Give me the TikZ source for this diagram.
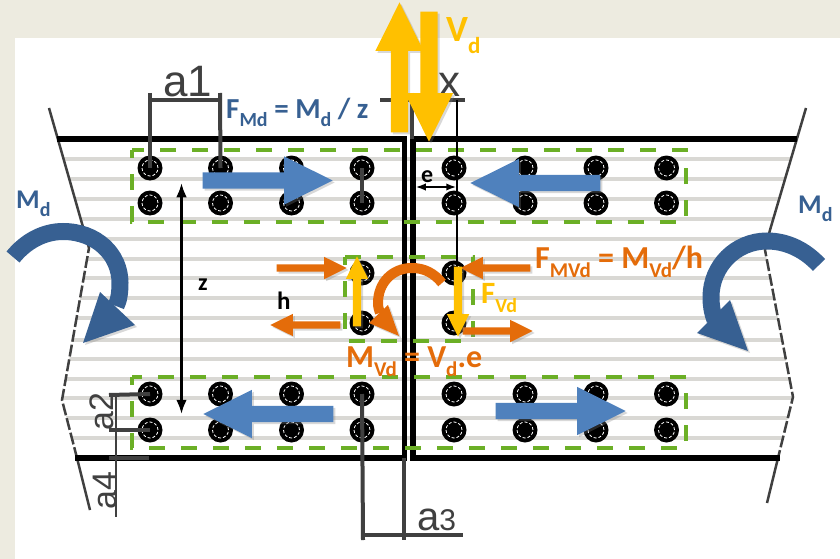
\documentclass[tikz,border=0pt]{standalone}
\usepackage{fontspec}
\setmainfont{Carlito}
\newfontfamily\dimfont{Liberation Sans}
\usetikzlibrary{shapes,arrows.meta,shadows}
\definecolor{paper}{HTML}{EDEBE0}
\definecolor{rail}{HTML}{D9D8D4}
\definecolor{dimgrey}{HTML}{404040}
\definecolor{groupgreen}{HTML}{6BAF26}
\definecolor{forceblue}{HTML}{4F81BD}
\definecolor{momentblue}{HTML}{376092}
\definecolor{shearorange}{HTML}{E46C0A}
\definecolor{shearyellow}{HTML}{FFC000}
\newcommand{\lowtext}[2]{\raisebox{-.3em}{\fontsize{#1}{#1}\selectfont #2}}
\tikzset{
	x=1pt,y=-1pt,
	softshadow/.style={drop shadow={opacity=0.3,shadow xshift=2pt,shadow yshift=-2pt}},
	bolt/.style={circle,fill=black,minimum size=25pt,inner sep=0pt,
		path picture={\draw[white,densely dashed,line width=0.8pt] (path picture bounding box.center) circle (8pt);}},
	railline/.style={rail,line width=4pt},
	flange/.style={black,line width=6pt},
	edgeline/.style={dimgrey,line width=2.5pt},
	dimline/.style={dimgrey,line width=4pt},
	groupbox/.style={groupgreen,line width=4pt,dash pattern=on 16pt off 16pt,dash phase=8pt},
	thinarrow/.style={Latex-Latex,black},
	blockarrow/.style={single arrow,anchor=tip,softshadow},
	horiz/.style={inner xsep=0pt,inner ysep=#1},
	vert/.style={inner ysep=0pt,inner xsep=#1},
	forcearrow/.style={blockarrow,horiz=8pt,fill=forceblue,minimum height=130pt,
		single arrow head extend=16pt,single arrow tip angle=53},
	orangearrow/.style={blockarrow,horiz=3.5pt,fill=shearorange,minimum height=70pt,
		single arrow head extend=7.5pt,single arrow tip angle=53},
	yellowarrow/.style={blockarrow,vert=4pt,fill=shearyellow,minimum height=70pt,
		single arrow head extend=7pt,single arrow tip angle=53},
	bigarrow/.style={blockarrow,vert=8.5pt,fill=shearyellow,minimum height=130pt,
		single arrow head extend=15.5pt,single arrow tip angle=53},
	lbl/.style={anchor=base west,inner sep=0pt,font=\bfseries\fontsize{#1}{#1}\selectfont},
	dimlbl/.style={anchor=base west,inner sep=0pt,text=dimgrey,font=\dimfont\fontsize{#1}{#1}\selectfont}
}
\begin{document}
\begin{tikzpicture}
	\useasboundingbox (0,0) rectangle (840,559);
	\fill[paper] (0,0) rectangle (840,559);
	\fill[white] (15,38) rectangle (840,559);
	
	% Rails
	\begin{scope}
		\clip (49,108) -- (89,248) -- (62,400) -- (90,510) -- (767,503) -- (793,397) -- (765,250) -- (806,108) -- cycle;
		\foreach \y in {159,179,199,219,239,259,278,298,318,340,359,379,398,418,438}
			\draw[railline] (40,\y) -- (820,\y);
	\end{scope}
	
	% Plate edges
	\draw[edgeline] (49,108) -- (83,227);
	\draw[edgeline,dash pattern=on 12pt off 3pt] (83,227) -- (89,248) -- (62,400) -- (77,458);
	\draw[edgeline] (77,458) -- (90,510);
	\draw[edgeline] (806,108) -- (770,230);
	\draw[edgeline,dash pattern=on 12pt off 3pt] (770,230) -- (765,250) -- (793,397) -- (778,458);
	\draw[edgeline] (778,458) -- (767,503);
	\draw[flange] (57,139) -- (407,139);
	\draw[flange] (410,139) -- (797,139);
	\draw[flange] (75,458) -- (407,458);
	\draw[flange] (410,458) -- (780,458);
	\draw[black,line width=5pt] (404,139) -- (404,458);
	\draw[black,line width=6pt] (413,139) -- (413,458);
	
	% Bolts
	\foreach \x/\n in {150/1,220.5/2,291.5/3,362/4,454/5,525/6,596/7,666.5/8} {
		\node[bolt] (ta\n) at (\x,168) {};
		\node[bolt] (tb\n) at (\x,203) {};
		\node[bolt] (ba\n) at (\x,394) {};
		\node[bolt] (bb\n) at (\x,430) {};
	}
	\node[bolt] (ma1) at (362,273) {};
	\node[bolt] (mb1) at (362,323) {};
	\node[bolt] (ma2) at (454,273) {};
	\node[bolt] (mb2) at (454,323) {};
	
	% Bolt groups
	\draw[groupbox] (132,150) rectangle (686,222);
	\draw[groupbox] (132,377) rectangle (686,448);
	\draw[groupbox] (345,257) rectangle (473,341);
	
	% Dimensions
	\coordinate (a1l) at (150,93);
	\coordinate (a1r) at (220,93);
	\coordinate (a1m) at (150,100);
	\coordinate (a1n) at (220,100);
	\coordinate (a2top) at (109,395);
	\coordinate (a2bot) at (109,430);
	\coordinate (a3l) at (363,540);
	\coordinate (a3r) at (404,540);
	\coordinate (a3web) at (404,458);
	\coordinate (a3m) at (363,535);
	\coordinate (a3n) at (463,535);
	\coordinate (a4top) at (116,395);
	\coordinate (a4bot) at (116,517);
	\coordinate (a4l) at (109,458);
	\coordinate (a4r) at (149,458);
	\coordinate (xl) at (380,100);
	\coordinate (xr) at (465,100);
	\coordinate (xtop) at (457,100);
	\coordinate (xbot) at (457,330);
	\coordinate (webtop) at (412,93);
	\coordinate (webfl) at (412,139);
	\draw[dimline] (a1l) -- (ta1.center);
	\draw[dimline] (a1r) -- (ta2.center);
	\draw[dimline] (a1m) -- (a1n);
	\draw[dimline] (ta4.center) -- (tb4.center);
	\draw[dimline] (a2top) -- (ba1.center);
	\draw[dimline] (a2bot) -- (bb1.center);
	\draw[edgeline] (a4top) -- (a4bot);
	\draw[dimline] (a4l) -- (a4r);
	\draw[dimline] (ba4.center) -- (a3l);
	\draw[dimline] (a3web) -- (a3r);
	\draw[dimline] (a3m) -- (a3n);
	\draw[dimline] (xl) -- (xr);
	\draw[dimline] (webtop) -- (webfl);
	\draw[black,line width=1.5pt] (xtop) -- (xbot);
	\node[dimlbl=44] (a1txt) at (163,97) {a1};
	\node[dimlbl=44] (xtxt) at (438,97) {x};
	\node[dimlbl=34,rotate=90] (a2txt) at (113,431) {a2};
	\node[dimlbl=34,rotate=90] (a4txt) at (116,510) {a4};
	\node[dimlbl=40] (a3txt) at (417,530) {a\fontsize{30}{30}\selectfont 3};
	
	% Thin arrows
	\coordinate (ztop) at (181.5,183);
	\coordinate (zbot) at (181.5,414);
	\coordinate (el) at (416,187);
	\coordinate (er) at (456,187);
	\draw[thinarrow,line width=2.5pt] (ztop) -- (zbot);
	\draw[thinarrow,line width=1.5pt] (el) -- (er);
	
	% Blue forces
	\node[forcearrow] (ftl) at (333,180.5) {};
	\node[forcearrow,shape border rotate=180] (ftr) at (470,183) {};
	\node[forcearrow,shape border rotate=180] (fbl) at (203,414) {};
	\node[forcearrow] (fbr) at (626,411) {};
	
	% Shear forces
	\node[orangearrow] (oa) at (347,268) {};
	\node[orangearrow,shape border rotate=180] (ob) at (460,268) {};
	\node[orangearrow,shape border rotate=180] (oc) at (270,325) {};
	\node[orangearrow] (od) at (533,331) {};
	\node[yellowarrow,shape border rotate=90] (ya) at (357,256) {};
	\node[yellowarrow,shape border rotate=270] (yb) at (458,337) {};
	\node[bigarrow,shape border rotate=90] (vup) at (399.5,2) {};
	\node[bigarrow,shape border rotate=270] (vdown) at (429,142) {};
	
	% Moments
	\draw[shearorange,line width=10pt] (442,283) .. controls (434,273) and (424,268) .. (412,268)
		.. controls (392,268) and (378,283) .. (378,303) .. controls (378,307) and (379,310) .. (380,313);
	\fill[shearorange,softshadow] (399,336) -- (369,323) -- (388,305) -- cycle;
	\draw[momentblue,line width=17pt] (13,257) .. controls (26,241) and (44,231.5) .. (63,231.5)
		.. controls (96,231.5) and (120,254) .. (120,283) .. controls (120,292) and (119,300) .. (116,306);
	\fill[momentblue,softshadow] (83,343) -- (100,292) -- (135,325) -- cycle;
	\draw[momentblue,line width=17pt] (819,265) .. controls (805,250) and (787,241) .. (767,241)
		.. controls (736,241) and (711,266) .. (711,297) .. controls (711,305) and (712,312) .. (715,320);
	\fill[momentblue,softshadow] (748,351) -- (730,300) -- (697,333) -- cycle;
	
	% Labels
	\node[lbl=29,text=momentblue] (fmd) at (226,118) {F\lowtext{20}{Md} = M\lowtext{20}{d} / z};
	\node[lbl=27,text=momentblue] (mdl) at (16,208) {M\lowtext{20}{d}};
	\node[lbl=27,text=momentblue] (mdr) at (798,213) {M\lowtext{20}{d}};
	\node[lbl=37,text=shearyellow] (vd) at (446,42) {V\lowtext{23}{d}};
	\node[lbl=31,text=shearyellow] (fvd) at (481,303) {F\lowtext{20}{Vd}};
	\node[lbl=32,text=shearorange] (fmvd) at (535,268) {F\lowtext{21}{MVd} = M\lowtext{21}{Vd}/h};
	\node[lbl=32,text=shearorange] (mvd) at (346,367) {M\lowtext{21}{Vd} = V\lowtext{21}{d}.e};
	\node[lbl=24] (etxt) at (421,182) {e};
	\node[lbl=24] (ztxt) at (198,290) {z};
	\node[lbl=25] (htxt) at (277,309) {h};
\end{tikzpicture}
\end{document}
